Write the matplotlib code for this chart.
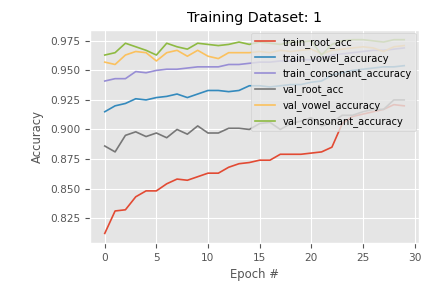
import numpy as np
import matplotlib
matplotlib.use("Agg")
import matplotlib.pyplot as plt

plt.style.use("ggplot")

# values (epochs 0..29)
epochs = np.arange(30)
train_root_acc = [0.812, 0.831, 0.832, 0.843, 0.848, 0.848, 0.854, 0.858, 0.857, 0.860,
                  0.863, 0.863, 0.868, 0.871, 0.872, 0.874, 0.874, 0.879, 0.879, 0.879,
                  0.880, 0.881, 0.885, 0.905, 0.911, 0.913, 0.915, 0.917, 0.921, 0.920]
train_vowel_accuracy = [0.915, 0.920, 0.922, 0.926, 0.925, 0.927, 0.928, 0.930, 0.927, 0.930,
                        0.933, 0.933, 0.932, 0.933, 0.937, 0.937, 0.936, 0.937, 0.938, 0.938,
                        0.940, 0.941, 0.946, 0.948, 0.950, 0.951, 0.952, 0.953, 0.953, 0.954]
train_consonant_accuracy = [0.941, 0.943, 0.943, 0.949, 0.948, 0.950, 0.951, 0.951, 0.952, 0.953,
                            0.953, 0.953, 0.955, 0.955, 0.956, 0.957, 0.957, 0.958, 0.958, 0.959,
                            0.959, 0.960, 0.963, 0.964, 0.965, 0.966, 0.967, 0.967, 0.968, 0.969]
val_root_acc = [0.886, 0.881, 0.895, 0.898, 0.894, 0.897, 0.893, 0.900, 0.896, 0.903,
                0.897, 0.897, 0.901, 0.901, 0.900, 0.905, 0.906, 0.900, 0.905, 0.907,
                0.910, 0.903, 0.906, 0.912, 0.912, 0.915, 0.917, 0.917, 0.925, 0.925]
val_vowel_accuracy = [0.957, 0.955, 0.963, 0.966, 0.965, 0.958, 0.965, 0.967, 0.962, 0.967,
                      0.962, 0.960, 0.965, 0.965, 0.965, 0.966, 0.965, 0.967, 0.966, 0.967,
                      0.968, 0.964, 0.967, 0.968, 0.969, 0.970, 0.969, 0.966, 0.970, 0.971]
val_consonant_accuracy = [0.963, 0.965, 0.973, 0.970, 0.967, 0.963, 0.973, 0.970, 0.968, 0.973,
                          0.972, 0.971, 0.972, 0.974, 0.972, 0.974, 0.973, 0.972, 0.974, 0.974,
                          0.975, 0.963, 0.972, 0.975, 0.976, 0.976, 0.975, 0.974, 0.976, 0.976]

series = [
    ("train_root_acc", train_root_acc),
    ("train_vowel_accuracy", train_vowel_accuracy),
    ("train_consonant_accuracy", train_consonant_accuracy),
    ("val_root_acc", val_root_acc),
    ("val_vowel_accuracy", val_vowel_accuracy),
    ("val_consonant_accuracy", val_consonant_accuracy),
]

fig = plt.figure(figsize=(4.38, 2.83), dpi=100)
ax = fig.add_axes([0.205, 0.141, 0.752, 0.753])
for name, vals in series:
    ax.plot(epochs, vals, label=name, linewidth=1.2)

ax.set_title("Training Dataset: 1", fontsize=10.3)
ax.set_xlabel("Epoch #", fontsize=8.4)
ax.set_ylabel("Accuracy", fontsize=8.4)
ax.set_xticks([0, 5, 10, 15, 20, 25, 30])
ax.set_yticks([0.825, 0.850, 0.875, 0.900, 0.925, 0.950, 0.975])
ax.tick_params(labelsize=7.6)
ax.legend(loc="upper right", fontsize=7.1, borderaxespad=0.3)

fig.savefig("out.png", dpi=100)
